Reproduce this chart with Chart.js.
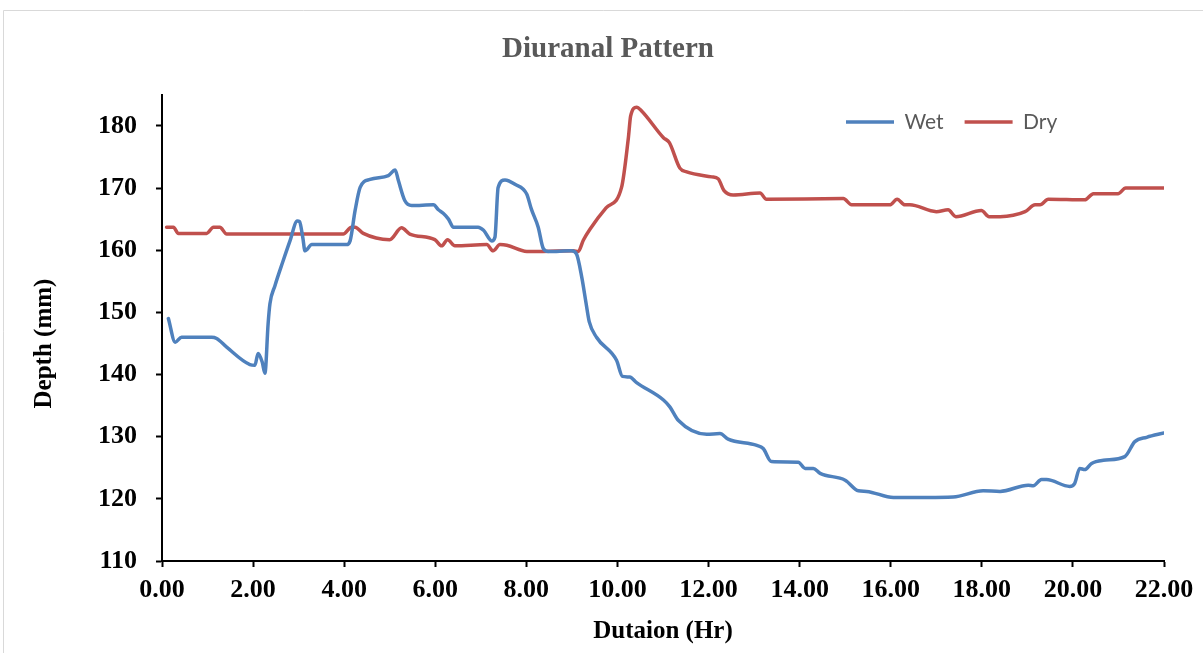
<!DOCTYPE html>
<html>
<head>
<meta charset="utf-8">
<script src="https://cdn.jsdelivr.net/npm/chart.js@4.4.1/dist/chart.umd.min.js"></script>
<style>
  html, body { margin: 0; padding: 0; background: #fff; }
  #wrap { width: 1203px; height: 653px; position: relative; }
</style>
</head>
<body>
<div id="wrap"><canvas id="chart" width="1203" height="653"></canvas></div>
<script>
// Hours and depths for the wet-season series
const wetHours = [0.14, 0.29, 0.43, 1.09, 1.20, 1.42, 1.93, 2.04, 2.11, 2.20, 2.26, 2.33, 2.37, 2.48, 2.66, 2.81, 2.97, 3.02, 3.09, 3.14,
  3.29, 4.05, 4.13, 4.24, 4.35, 4.57, 4.97, 5.12, 5.19, 5.33, 5.48, 5.96, 6.07, 6.18, 6.29, 6.40, 6.94, 7.06, 7.24, 7.31,
  7.38, 7.53, 7.75, 8.01, 8.11, 8.26, 8.37, 8.48, 8.99, 9.10, 9.22, 9.31, 9.38, 9.54, 9.98, 10.11, 10.27, 10.42, 11.01, 11.15,
  11.34, 11.96, 12.25, 12.43, 13.06, 13.20, 13.38, 13.97, 14.12, 14.30, 14.45, 15.00, 15.29, 15.47, 16.06, 17.37, 18.03, 18.40, 19.02, 19.13,
  19.31, 19.42, 19.93, 20.04, 20.15, 20.26, 20.41, 20.67, 21.14, 21.36, 21.62, 22.00];
const wetDepth = [149.0, 145.2, 146.0, 146.0, 145.8, 144.4, 141.6, 141.5, 143.4, 142.0, 140.2, 148.2, 151.4, 154.3, 158.3, 161.5, 164.7, 164.6, 162.1, 159.9,
  160.9, 160.9, 161.5, 166.4, 170.1, 171.4, 172.0, 172.9, 171.2, 168.0, 167.2, 167.3, 166.5, 165.9, 165.0, 163.7, 163.7, 163.2, 161.5, 162.1,
  170.1, 171.3, 170.6, 169.0, 166.6, 163.7, 160.3, 159.8, 159.9, 159.4, 155.5, 151.5, 148.5, 146.0, 142.3, 139.7, 139.6, 138.7, 135.9, 134.8,
  132.6, 130.4, 130.5, 129.6, 128.6, 128.1, 126.0, 125.9, 124.9, 124.9, 124.1, 123.0, 121.3, 121.2, 120.2, 120.3, 121.3, 121.2, 122.2, 122.1,
  123.1, 123.1, 122.0, 122.5, 124.9, 124.7, 125.7, 126.2, 126.8, 129.2, 129.9, 130.6];

// Hours and depths for the dry-season series
const dryHours = [0.10, 0.25, 0.36, 0.98, 1.13, 1.27, 1.42, 3.98, 4.16, 4.24, 4.42, 5.00, 5.26, 5.44, 5.99, 6.14, 6.27, 6.43, 7.13, 7.27,
  7.42, 7.57, 8.01, 9.03, 9.14, 9.25, 9.40, 9.75, 10.09, 10.24, 10.29, 10.42, 10.53, 11.01, 11.14, 11.37, 11.52, 12.07, 12.21, 12.34,
  12.54, 13.13, 13.27, 14.96, 15.14, 15.98, 16.14, 16.31, 16.42, 17.00, 17.26, 17.43, 17.99, 18.16, 18.40, 18.95, 19.17, 19.28, 19.46, 20.26,
  20.45, 20.99, 21.16, 22.00];
const dryDepth = [163.7, 163.7, 162.7, 162.7, 163.7, 163.7, 162.6, 162.6, 163.7, 163.7, 162.7, 161.7, 163.6, 162.6, 161.7, 160.7, 161.7, 160.7, 160.9, 159.9,
  160.9, 160.8, 159.8, 159.9, 159.8, 161.6, 163.4, 166.8, 170.1, 178.1, 181.6, 183.0, 182.4, 178.1, 177.3, 173.2, 172.6, 171.8, 171.5, 169.6,
  168.9, 169.2, 168.2, 168.3, 167.3, 167.3, 168.2, 167.3, 167.3, 166.2, 166.5, 165.4, 166.4, 165.4, 165.4, 166.2, 167.3, 167.3, 168.2, 168.1,
  169.1, 169.1, 170.0, 170.0];

// Axis tick values
const xTickValues = [0, 2, 4, 6, 8, 10, 12, 14, 16, 18, 20, 22];
const yTickValues = [110, 120, 130, 140, 150, 160, 170, 180];

const serif = '"Liberation Serif", "Times New Roman", serif';

const toPoints = (xs, ys) => xs.map((x, i) => ({ x: x, y: ys[i] }));

// Light frame around the chart
const framePlugin = {
  id: 'frame',
  beforeDraw(chart) {
    const ctx = chart.ctx;
    ctx.save();
    ctx.fillStyle = '#ffffff';
    ctx.fillRect(0, 0, chart.width, chart.height);
    ctx.strokeStyle = '#d9d9d9';
    ctx.lineWidth = 1;
    ctx.beginPath();
    ctx.moveTo(3.5, chart.height);
    ctx.lineTo(3.5, 10.5);
    ctx.lineTo(chart.width, 10.5);
    ctx.stroke();
    ctx.restore();
  }
};

// Place the legend inside the plot area, near the top right
const legendPlacement = {
  id: 'legendPlacement',
  afterLayout(chart) {
    const lg = chart.legend;
    if (!lg) return;
    lg.left = 825;
    lg.right = 1160;
    lg.top = 90.5;
    lg.bottom = 150;
    lg.width = lg.right - lg.left;
    lg.height = lg.bottom - lg.top;
  }
};

new Chart(document.getElementById('chart'), {
  type: 'line',
  data: {
    datasets: [
      {
        label: 'Wet',
        data: toPoints(wetHours, wetDepth),
        borderColor: '#4F81BD',
        backgroundColor: '#4F81BD',
        borderWidth: 3.5,
        borderCapStyle: 'round',
        borderJoinStyle: 'round',
        pointRadius: 0,
        cubicInterpolationMode: 'monotone',
        fill: false
      },
      {
        label: 'Dry',
        data: toPoints(dryHours, dryDepth),
        borderColor: '#C0504D',
        backgroundColor: '#C0504D',
        borderWidth: 3.5,
        borderCapStyle: 'round',
        borderJoinStyle: 'round',
        pointRadius: 0,
        cubicInterpolationMode: 'monotone',
        fill: false
      }
    ]
  },
  options: {
    responsive: false,
    animation: false,
    devicePixelRatio: 1,
    layout: { padding: { top: 0, left: 52, right: 39, bottom: 2 } },
    plugins: {
      title: {
        display: true,
        text: 'Diuranal Pattern',
        color: '#595959',
        font: { family: serif, size: 29, weight: 'bold' },
        padding: { top: 32, bottom: 27 }
      },
      legend: {
        display: true,
        position: 'top',
        align: 'start',
        maxHeight: 1,
        labels: {
          usePointStyle: true,
          pointStyle: 'line',
          pointStyleWidth: 48,
          padding: 21,
          color: '#595959',
          font: { family: 'Lato, "Open Sans", sans-serif', size: 21 }
        }
      },
      tooltip: { enabled: false }
    },
    scales: {
      x: {
        type: 'linear',
        min: 0,
        max: 22,
        afterBuildTicks(scale) { scale.ticks = xTickValues.map(v => ({ value: v })); },
        afterFit(scale) { scale.height = 90; },
        ticks: {
          color: '#000',
          padding: 8,
          maxRotation: 0,
          font: { family: serif, size: 26, weight: 'bold' },
          callback: v => Number(v).toFixed(2)
        },
        grid: { drawOnChartArea: false, drawTicks: true, tickLength: 6, tickColor: '#000', tickWidth: 2 },
        border: { display: true, color: '#000', width: 2 },
        title: {
          display: true,
          text: 'Dutaion (Hr)',
          color: '#000',
          font: { family: serif, size: 25, weight: 'bold' },
          padding: { top: 4, bottom: 4 }
        }
      },
      y: {
        type: 'linear',
        min: 110,
        max: 185,
        afterBuildTicks(scale) { scale.ticks = yTickValues.map(v => ({ value: v })); },
        afterFit(scale) { scale.width = 110; },
        ticks: {
          color: '#000',
          padding: 19,
          font: { family: serif, size: 26, weight: 'bold' }
        },
        grid: { drawOnChartArea: false, drawTicks: true, tickLength: 6, tickColor: '#000', tickWidth: 2 },
        border: { display: true, color: '#000', width: 2 },
        title: {
          display: true,
          text: 'Depth (mm)     ',
          color: '#000',
          font: { family: serif, size: 25, weight: 'bold' },
          padding: { top: -22, bottom: 4 }
        }
      }
    }
  },
  plugins: [framePlugin, legendPlacement]
});
</script>
</body>
</html>
